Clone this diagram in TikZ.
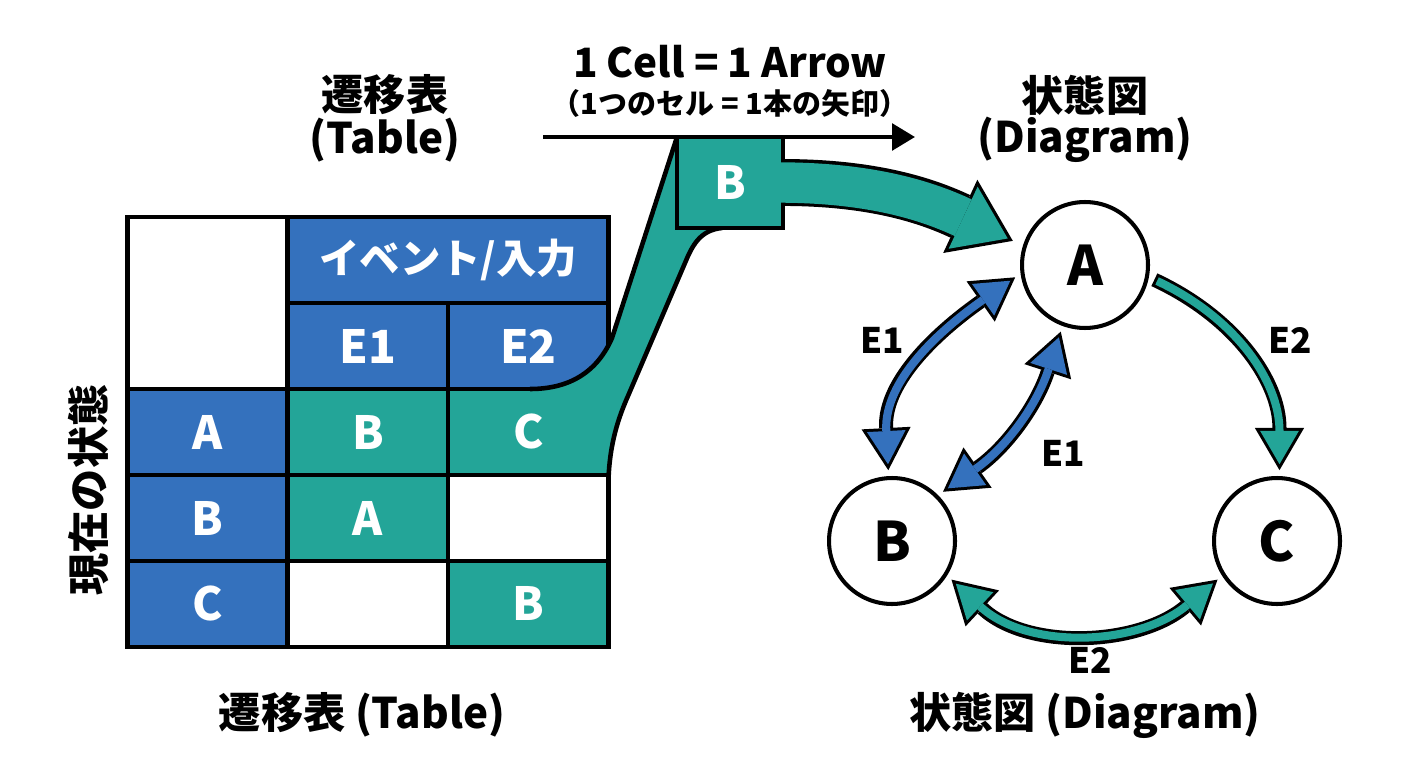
\documentclass[tikz,border=0pt]{standalone}
\usepackage{fontspec}
\setmainfont{Noto Sans CJK JP}
\usepackage{xcolor}
\usepackage{tikz}
\usetikzlibrary{arrows.meta, positioning}

\definecolor{tblblue}{RGB}{52,113,189}
\definecolor{tblteal}{RGB}{35,165,152}

\begin{document}
\begin{tikzpicture}[
  x=0.02cm, y=0.02cm,
  cell/.style      = {draw=black, line width=2.6pt, minimum width=3.21cm,
                      minimum height=1.72cm, inner sep=0pt, outer sep=0pt,
                      text=white, font=\bfseries\fontsize{26}{30}\selectfont},
  bluecell/.style  = {cell, fill=tblblue},
  tealcell/.style  = {cell, fill=tblteal},
  emptycell/.style = {cell, fill=white},
  state/.style     = {circle, draw=black, line width=2.3pt, fill=white,
                      minimum size=2.52cm, outer sep=4.5pt,
                      font=\bfseries\fontsize{31}{34}\selectfont},
  ttl/.style       = {inner sep=0pt, font=\bfseries\fontsize{24}{28}\selectfont},
  elbl/.style      = {inner sep=0pt, font=\bfseries\fontsize{20}{24}\selectfont},
  fatout/.style    = {line width=8pt, black},
  fatin/.style     = {line width=4.6pt, shorten >=3.4pt},
  tipout/.tip      = {Triangle[length=24pt, width=28pt, line width=0pt]},
  tipin/.tip       = {Triangle[length=18.9pt, width=22pt, line width=0pt]},
  bigout/.tip      = {Triangle[length=33pt, width=46pt, line width=0pt]},
  bigin/.tip       = {Triangle[length=28pt, width=39pt, line width=0pt]}
]
\fill[white] (0,0) rectangle (1408,768);

% transition table
\node[bluecell] (sa) at (207.5,336) {A};
\node[tealcell, right=0pt of sa] (ab) {B};
\node[tealcell, right=0pt of ab] (ac) {C};
\node[bluecell, below=0pt of sa] (sb) {B};
\node[tealcell, right=0pt of sb] (ba) {A};
\node[emptycell, right=0pt of ba] (bx) {};
\node[bluecell, below=0pt of sb] (sc) {C};
\node[emptycell, right=0pt of sc] (cx) {};
\node[tealcell, right=0pt of cx] (cb) {B};
\node[bluecell, above=0pt of ab] (e1) {E1};
\node[bluecell, above=0pt of ac] (e2) {E2};
\node[bluecell, minimum width=6.42cm, above=0pt of e1.north east,
      font=\bfseries\fontsize{23}{26}\selectfont] (event) {イベント/入力};
\node[emptycell, minimum height=3.44cm, above=0pt of sa] (corner) {};

% band from the table up to the picked cell
\fill[tblteal] (530,379) .. controls (572,379) and (598,398) .. (612,430)
  -- (677,631) -- (730,600) -- (722,540)
  .. controls (700,538) and (692,522) .. (685,505) -- (628,372)
  .. controls (615,343) and (610,318) .. (ac.south east) -- cycle;
\draw[line width=2.6pt] (530,379) .. controls (572,379) and (598,398) .. (612,430)
  -- (677,631);
\draw[line width=2.6pt] (722,540) .. controls (700,538) and (692,522) .. (685,505)
  -- (628,372) .. controls (615,343) and (610,318) .. (ac.south east);
\node[tealcell, minimum width=2.12cm, minimum height=1.82cm] (pick) at (730,585.5) {B};

% states
\node[state] (A) at (1085,503) {A};
\node[state] (B) at (892,227) {B};
\node[state] (C) at (1277,227) {C};

% big arrow
\draw[black, line width=26.7pt, -bigout, shorten >=3pt]
  (pick.east) to[out=0, in=155] (A.162);
\draw[tblteal, line width=23pt, -bigin, shorten >=6.2pt]
  ([xshift=-3pt]pick.east) to[out=0, in=155] (A.162);

% rule arrow
\coordinate (ruleL) at (543,631);
\coordinate (ruleR) at (915,631);
\draw[line width=2.4pt, -{Triangle[length=13pt, width=15pt]}] (ruleL) -- (ruleR);

% transitions
\draw[fatout, tipout-tipout] (A.190) to[out=215, in=93] (B.93);
\draw[fatin, tblblue, tipin-tipin, shorten <=3.4pt] (A.190) to[out=215, in=93] (B.93);
\draw[fatout, tipout-tipout] (A.250) to[out=252, in=35] (B.44);
\draw[fatin, tblblue, tipin-tipin, shorten <=3.4pt] (A.250) to[out=252, in=35] (B.44);
\draw[fatout, -tipout] (A.348) to[out=-25, in=90] (C.88);
\draw[fatin, tblteal, -tipin, shorten <=1.7pt] (A.348) to[out=-25, in=90] (C.88);
\draw[fatout, tipout-tipout] (B.327) to[out=-43, in=220] (C.213);
\draw[fatin, tblteal, tipin-tipin, shorten <=3.4pt] (B.327) to[out=-43, in=220] (C.213);

\node[elbl] (lab1) at (882,428) {E1};
\node[elbl] (lab2) at (1063,315) {E1};
\node[elbl] (lab3) at (1290,428) {E2};
\node[elbl] (lab4) at (1090,108) {E2};

% titles
\node[ttl] (tbltitle) at (385,673) {遷移表};
\node[ttl] (tblsub) at (385,628) {(Table)};
\node[ttl] (dgtitle) at (1085,673) {状態図};
\node[ttl] (dgsub) at (1085,628) {(Diagram)};
\node[inner sep=0pt, font=\bfseries\fontsize{23}{26}\selectfont] (ruletxt) at (730,706) {1 Cell = 1 Arrow};
\node[inner sep=0pt, font=\bfseries\fontsize{16.5}{19}\selectfont] (rulesub) at (730,665) {（1つのセル = 1本の矢印）};
\node[ttl, rotate=90] (rowlbl) at (88,278) {現在の状態};
\node[ttl] (tblfoot) at (362,53) {遷移表 (Table)};
\node[ttl] (dgfoot) at (1085,53) {状態図 (Diagram)};
\end{tikzpicture}
\end{document}
